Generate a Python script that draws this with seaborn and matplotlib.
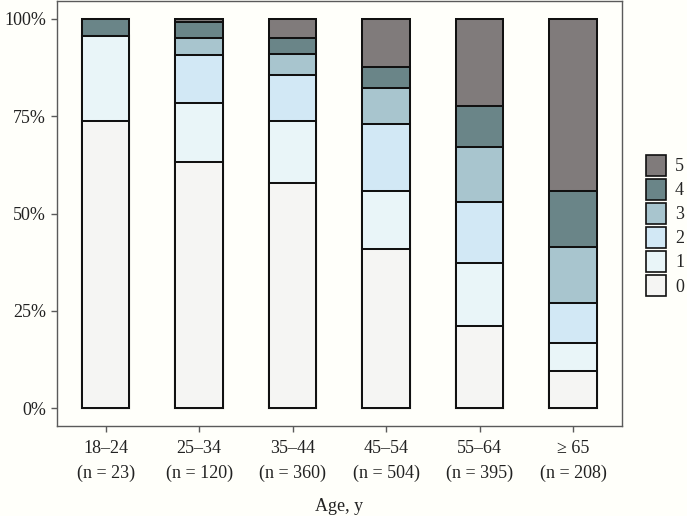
import matplotlib
matplotlib.use("Agg")
import matplotlib.pyplot as plt
from matplotlib.patches import Patch
import seaborn as sns
import pandas as pd
import numpy as np

# counts per score level (0..5) for each age group
AGE_GROUPS = ["18–24", "25–34", "35–44", "45–54", "55–64", "≥ 65"]
N_TOTAL = [23, 120, 360, 504, 395, 208]
SCORE_0 = [17, 76, 208, 206, 83, 20]
SCORE_1 = [5, 18, 58, 75, 64, 15]
SCORE_2 = [0, 15, 42, 87, 62, 21]
SCORE_3 = [0, 5, 20, 47, 56, 30]
SCORE_4 = [1, 5, 14, 27, 42, 30]
SCORE_5 = [0, 1, 18, 62, 88, 92]
LEVELS = ["0", "1", "2", "3", "4", "5"]

COLORS = {
    "bg":     "#fffffa",
    "border": "#5a5a5a",
    "text":   "#222222",
    "0": "#f5f5f3",
    "1": "#e9f5f8",
    "2": "#d2e8f5",
    "3": "#a8c5ce",
    "4": "#6a8588",
    "5": "#807b7b",
}

counts = pd.DataFrame(
    np.array([SCORE_0, SCORE_1, SCORE_2, SCORE_3, SCORE_4, SCORE_5]).T,
    columns=LEVELS,
)
share = counts.div(counts.sum(axis=1), axis=0)
cum = share.cumsum(axis=1)
cum["label"] = [f"{a}\n(n = {n})" for a, n in zip(AGE_GROUPS, N_TOTAL)]

sns.set_style("white")
plt.rcParams["font.family"] = ["Liberation Serif", "DejaVu Serif"]
plt.rcParams["font.size"] = 13

fig = plt.figure(figsize=(6.87, 5.16), dpi=100)
fig.patch.set_facecolor(COLORS["bg"])
ax = fig.add_axes([0.083, 0.174, 0.822, 0.824])
ax.set_facecolor(COLORS["bg"])

# draw cumulative bars from the top level down so lower segments overlay
for lvl in reversed(LEVELS):
    sns.barplot(data=cum, x="label", y=lvl, ax=ax, color=COLORS[lvl],
                saturation=1, width=0.51, edgecolor="#111111", linewidth=1.45,
                errorbar=None)

ax.set_xlim(-0.52, 5.52)
ax.set_ylim(-0.046, 1.046)
ax.set_yticks([0, 0.25, 0.5, 0.75, 1.0])
ax.set_yticklabels(["0%", "25%", "50%", "75%", "100%"])
ax.set_ylabel("")
ax.set_xlabel("Age, y", fontsize=13, labelpad=11, color=COLORS["text"])

for spine in ax.spines.values():
    spine.set_edgecolor(COLORS["border"])
    spine.set_linewidth(1.0)
ax.tick_params(axis="both", which="major", length=4, width=1.0,
               color=COLORS["border"], labelcolor=COLORS["text"],
               labelsize=13, pad=4, bottom=True, left=True)
ax.tick_params(axis="x", pad=6)
for t in ax.get_xticklabels():
    t.set_linespacing(1.6)

handles = [Patch(facecolor=COLORS[l], edgecolor="#111111", linewidth=1.2, label=l)
           for l in reversed(LEVELS)]
fig.legend(handles=handles, loc="center left", bbox_to_anchor=(0.930, 0.563),
           frameon=False, handlelength=1.1, handleheight=1.47,
           labelspacing=0.13, handletextpad=0.5, fontsize=13,
           borderaxespad=0)

fig.savefig("out.png", dpi=100, facecolor=COLORS["bg"])
